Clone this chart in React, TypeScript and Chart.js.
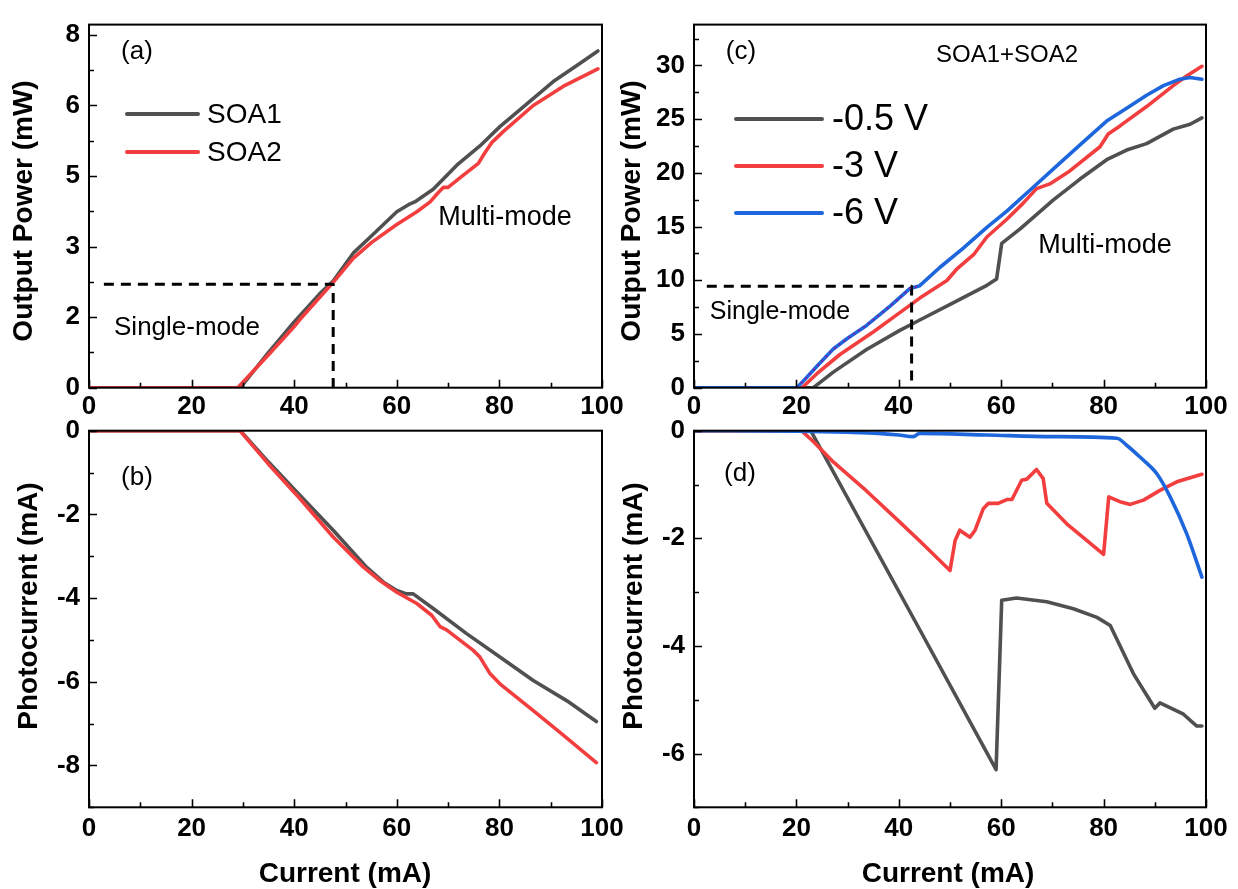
import React, { useEffect, useRef } from "react";
import { Chart, registerables } from "chart.js";

Chart.register(...registerables);

const FONT = "'Liberation Sans', Arial, Helvetica, sans-serif";
const GRAY = "#505050";
const RED = "#f23e3e";
const BLUE = "#1d66dc";
const PURPLE = "#8a1aa6";

// ---------- shared ----------
const xTickLabels = ["0", "20", "40", "60", "80", "100"];

// ---------- panel (a): output power, single SOAs ----------
const aSoa1X = [0, 29.5, 35, 40, 45, 47.6, 51.5, 55.1, 60, 62.6, 63.5, 67.1, 71.7, 76.2, 80.1, 85.3, 90.5, 95.1, 99.2];
const aSoa1Y = [0, 0, 0.75, 1.4, 2.0, 2.27, 2.86, 3.23, 3.74, 3.91, 3.95, 4.22, 4.73, 5.14, 5.55, 6.03, 6.51, 6.85, 7.16];
const aSoa2X = [0, 29, 35, 40, 41.1, 47.6, 51.5, 55.1, 60, 63.9, 66.5, 68.1, 69.1, 70, 72.3, 75.9, 77.2, 78.5, 80.8, 86.6, 92.5, 99.2];
const aSoa2Y = [0, 0, 0.7, 1.3, 1.45, 2.24, 2.75, 3.09, 3.47, 3.74, 3.95, 4.15, 4.26, 4.26, 4.46, 4.77, 5.0, 5.21, 5.45, 6.0, 6.41, 6.78];
const aDashX = [2.9, 47.6, 47.6];
const aDashY = [2.2, 2.2, 0];
const aYTickLabels = ["0", "2", "3", "5", "6", "8"];

// ---------- panel (b): photocurrent, single SOAs ----------
const bSoa1X = [0, 29.5, 35, 41.1, 47.6, 54.1, 57.4, 60, 61.9, 63.2, 67.1, 73.6, 80.1, 86.6, 93.1, 98.9];
const bSoa1Y = [0, 0, -0.75, -1.54, -2.38, -3.26, -3.62, -3.82, -3.9, -3.9, -4.25, -4.85, -5.41, -5.97, -6.45, -6.95];
const bSoa2X = [0, 29.4, 35, 41.1, 47.6, 53.5, 56.7, 60, 63.9, 66.8, 68.5, 69.7, 74.9, 76.2, 78.2, 80.1, 86.6, 91.8, 98.9];
const bSoa2Y = [0, 0, -0.8, -1.62, -2.54, -3.26, -3.58, -3.86, -4.13, -4.41, -4.69, -4.76, -5.25, -5.41, -5.81, -6.05, -6.69, -7.21, -7.93];
const bYTickLabels = ["-8", "-6", "-4", "-2", "0"];

// ---------- panel (c): output power, SOA1+SOA2 ----------
const cV05X = [0, 23.3, 27.2, 33.7, 40.2, 44.1, 50.6, 57.2, 59.1, 60.1, 63.7, 70.2, 75.4, 80.6, 84.5, 88.4, 93.6, 96.9, 99.2];
const cV05Y = [0, 0, 1.45, 3.55, 5.34, 6.3, 7.89, 9.53, 10.13, 13.43, 14.78, 17.48, 19.42, 21.22, 22.12, 22.72, 24.07, 24.52, 25.12];
const cV3X = [0, 21.1, 24, 28.5, 35, 40.2, 44.1, 49.4, 51.3, 54.6, 57.2, 61.1, 64.3, 66.9, 69.5, 73.4, 79.3, 80.9, 83.2, 88.4, 93.6, 96.2, 99.2];
const cV3Y = [0, 0, 1.3, 3.09, 5.19, 6.99, 8.34, 9.98, 11.03, 12.38, 14.03, 15.68, 17.18, 18.53, 18.97, 20.18, 22.43, 23.62, 24.37, 26.17, 28.12, 29.02, 29.92];
const cV6X = [0, 20.1, 22, 24, 27.2, 30, 33.7, 38.3, 42.2, 44.1, 48, 52.6, 57.2, 61.1, 66.3, 71.5, 76.7, 80.6, 84.5, 88.4, 91.7, 94.9, 96.9, 99.2];
const cV6Y = [0, 0, 0.95, 2.0, 3.6, 4.6, 5.8, 7.6, 9.24, 9.5, 11.19, 12.99, 14.93, 16.43, 18.68, 20.93, 23.17, 24.82, 26.02, 27.22, 28.12, 28.72, 28.87, 28.72];
const cFitX = [20.1, 22, 24, 27.2, 30, 33.7, 38.3, 42.2, 44.1];
const cFitY = [0, 0.95, 2.0, 3.6, 4.6, 5.8, 7.6, 9.24, 9.5];
const cDashX = [2.5, 42.5, 42.5];
const cDashY = [9.44, 9.44, 0];
const cYTickLabels = ["0", "5", "10", "15", "20", "25", "30"];

// ---------- panel (d): photocurrent, SOA1+SOA2 ----------
const dV05X = [0, 22.8, 44.1, 59, 60.1, 63, 68.9, 74.1, 78.7, 81.3, 85.9, 90, 91, 95.6, 98.2, 99.2];
const dV05Y = [0, 0, -3.7, -6.3, -3.15, -3.11, -3.18, -3.31, -3.47, -3.62, -4.53, -5.16, -5.06, -5.27, -5.49, -5.49];
const dV3X = [0, 21, 23.3, 27.2, 33.7, 40.2, 44.1, 50, 51, 51.9, 53.9, 54.9, 56.5, 57.5, 59.4, 61.1, 62.1, 64, 65, 66.9, 68.2, 68.9, 72.8, 76.7, 80, 81, 83.2, 85.2, 87.8, 91, 94.3, 99.2];
const dV3Y = [0, 0, -0.2, -0.58, -1.12, -1.7, -2.05, -2.6, -2.04, -1.85, -1.98, -1.85, -1.45, -1.35, -1.35, -1.28, -1.28, -0.92, -0.9, -0.72, -0.89, -1.35, -1.73, -2.04, -2.3, -1.23, -1.32, -1.37, -1.29, -1.11, -0.95, -0.81];
const dV6X = [0, 20, 30, 36, 40, 42.8, 44.1, 57.2, 70.2, 82.6, 84.5, 87.1, 90.4, 93, 96.2, 99.2];
const dV6Y = [0, -0.01, -0.03, -0.05, -0.08, -0.11, -0.05, -0.08, -0.11, -0.14, -0.27, -0.49, -0.8, -1.23, -1.91, -2.72];
const dYTickLabels = ["-6", "-4", "-2", "0"];

const legendAB = ["SOA1", "SOA2"];
const legendCD = ["-0.5 V", "-3 V", "-6 V"];

const pts = (xs: number[], ys: number[]) => xs.map((x, i) => ({ x, y: ys[i] }));

const line = (data: any[], color: string, order: number, width = 3.6, dash: number[] = [], smooth = false) => ({
  data,
  borderColor: color,
  backgroundColor: color,
  borderWidth: width,
  borderDash: dash,
  borderJoinStyle: "round",
  borderCapStyle: dash.length ? "butt" : "round",
  pointRadius: 0,
  tension: smooth ? 0.4 : 0,
  cubicInterpolationMode: smooth ? "monotone" : "default",
  fill: false,
  order,
});

type TextItem = { text: string; x: number; y: number; size: number; bold?: boolean; rot?: boolean };
type Panel = {
  plot: { left: number; top: number; right: number; bottom: number };
  yMin: number; yMax: number; yStep: number; yMinor: number; yLabels: string[];
  xPad: number;
  datasets: any[];
  texts: TextItem[];
  legend?: { labels: string[]; colors: string[]; x0: number; x1: number; tx: number; ys: number[]; size: number };
};

const framePlugin = {
  id: "frame",
  afterDraw(chart: any, _args: any, opts: any) {
    const ctx = chart.ctx;
    const { left, right, top, bottom } = chart.chartArea;
    const xs = chart.scales.x;
    const ys = chart.scales.y;
    ctx.save();
    ctx.strokeStyle = "#000";
    ctx.lineWidth = 2;
    ctx.strokeRect(left, top, right - left, bottom - top);
    ctx.lineWidth = 1.6;
    ctx.beginPath();
    for (let v = 0; v <= 100 + 1e-6; v += 10) {
      const major = Math.abs(v / 20 - Math.round(v / 20)) < 1e-6;
      const px = Math.round(xs.getPixelForValue(v)) + 0.5;
      ctx.moveTo(px, bottom);
      ctx.lineTo(px, bottom - (major ? 8 : 5));
    }
    const step = opts.yMinor;
    const start = Math.ceil(ys.min / step - 1e-6) * step;
    for (let v = start; v <= ys.max + 1e-6; v += step) {
      const major = Math.abs(v / opts.yStep - Math.round(v / opts.yStep)) < 1e-6;
      const py = Math.round(ys.getPixelForValue(v)) + 0.5;
      ctx.moveTo(left, py);
      ctx.lineTo(left + (major ? 8 : 5), py);
    }
    ctx.stroke();

    // texts
    ctx.fillStyle = "#000";
    ctx.textAlign = "center";
    ctx.textBaseline = "middle";
    for (const t of opts.texts as TextItem[]) {
      ctx.font = `${t.bold ? "bold " : ""}${t.size}px ${FONT}`;
      if (t.rot) {
        ctx.save();
        ctx.translate(t.x, t.y);
        ctx.rotate(-Math.PI / 2);
        ctx.fillText(t.text, 0, 0);
        ctx.restore();
      } else {
        ctx.fillText(t.text, t.x, t.y);
      }
    }
    // legend
    const lg = opts.legend;
    if (lg) {
      ctx.lineCap = "round";
      ctx.lineWidth = 4;
      ctx.textAlign = "left";
      ctx.font = `${lg.size}px ${FONT}`;
      lg.labels.forEach((lab: string, i: number) => {
        ctx.strokeStyle = lg.colors[i];
        ctx.beginPath();
        ctx.moveTo(lg.x0, lg.ys[i]);
        ctx.lineTo(lg.x1, lg.ys[i]);
        ctx.stroke();
        ctx.fillText(lab, lg.tx, lg.ys[i] + 1);
      });
    }
    ctx.restore();
  },
};

const W = 1238;
const H = 889;
const YW = 70;
const XH = 40;

function buildConfig(p: Panel): any {
  return {
    type: "line",
    data: { datasets: p.datasets },
    plugins: [framePlugin],
    options: {
      responsive: false,
      animation: false,
      devicePixelRatio: 1,
      events: [],
      layout: {
        padding: {
          left: p.plot.left - YW,
          right: W - p.plot.right,
          top: p.plot.top,
          bottom: H - p.plot.bottom - XH,
        },
      },
      plugins: {
        legend: { display: false },
        tooltip: { enabled: false },
        frame: { texts: p.texts, legend: p.legend, yMinor: p.yMinor, yStep: p.yStep },
      },
      scales: {
        x: {
          type: "linear",
          min: 0,
          max: 100,
          grid: { display: false, drawTicks: false, tickLength: 0 },
          border: { display: false },
          afterFit: (s: any) => { s.height = XH; },
          ticks: {
            stepSize: 20,
            autoSkip: false,
            maxRotation: 0,
            padding: p.xPad,
            color: "#000",
            font: { family: FONT, size: 26, weight: "bold", lineHeight: 1.2 },
            callback: (_v: any, i: number) => xTickLabels[i],
          },
        },
        y: {
          type: "linear",
          min: p.yMin,
          max: p.yMax,
          grid: { display: false, drawTicks: false, tickLength: 0 },
          border: { display: false },
          afterFit: (s: any) => { s.width = YW; },
          ticks: {
            stepSize: p.yStep,
            includeBounds: false,
            autoSkip: false,
            padding: 9,
            color: "#000",
            font: { family: FONT, size: 26, weight: "bold", lineHeight: 1.2 },
            callback: (_v: any, i: number) => p.yLabels[i],
          },
        },
      },
    },
  };
}

const panels: Panel[] = [
  {
    plot: { left: 89, top: 11, right: 602, bottom: 387.7 },
    yMin: 0, yMax: 7.72, yStep: 1.5, yMinor: 0.75, yLabels: aYTickLabels, xPad: 4,
    datasets: [
      line(pts(aDashX, aDashY), "#000", 0, 3, [10, 7]),
      line(pts(aSoa2X, aSoa2Y), RED, 1),
      line(pts(aSoa1X, aSoa1Y), GRAY, 2),
    ],
    texts: [
      { text: "(a)", x: 137, y: 52, size: 26 },
      { text: "Single-mode", x: 187, y: 328, size: 26 },
      { text: "Multi-mode", x: 505, y: 218, size: 27 },
      { text: "Output Power (mW)", x: 24, y: 211, size: 28, bold: true, rot: true },
    ],
    legend: { labels: legendAB, colors: [GRAY, RED], x0: 127, x1: 198, tx: 207, ys: [114, 152], size: 28 },
  },
  {
    plot: { left: 89, top: 430.7, right: 602, bottom: 807.3 },
    yMin: -9, yMax: 0, yStep: 2, yMinor: 1, yLabels: bYTickLabels, xPad: 6,
    datasets: [
      line(pts(bSoa2X, bSoa2Y), RED, 1),
      line(pts(bSoa1X, bSoa1Y), GRAY, 2),
    ],
    texts: [
      { text: "(b)", x: 137, y: 478, size: 26 },
      { text: "Photocurrent (mA)", x: 29, y: 606, size: 28, bold: true, rot: true },
      { text: "Current (mA)", x: 345, y: 874, size: 28, bold: true },
    ],
  },
  {
    plot: { left: 694, top: 11.5, right: 1206, bottom: 387.7 },
    yMin: 0, yMax: 33.8, yStep: 5, yMinor: 2.5, yLabels: cYTickLabels, xPad: 4,
    datasets: [
      line(pts(cFitX, cFitY), PURPLE, -1, 1.8, [2, 4]),
      line(pts(cDashX, cDashY), "#000", 0, 3, [10, 7]),
      line(pts(cV6X, cV6Y), BLUE, 1),
      line(pts(cV3X, cV3Y), RED, 2),
      line(pts(cV05X, cV05Y), GRAY, 3),
    ],
    texts: [
      { text: "(c)", x: 741, y: 52, size: 26 },
      { text: "SOA1+SOA2", x: 1007, y: 55, size: 24 },
      { text: "Single-mode", x: 780, y: 312, size: 25 },
      { text: "Multi-mode", x: 1105, y: 246, size: 27 },
      { text: "Output Power (mW)", x: 632, y: 211, size: 28, bold: true, rot: true },
    ],
    legend: { labels: legendCD, colors: [GRAY, RED, BLUE], x0: 736, x1: 822, tx: 832, ys: [119, 166, 213], size: 36 },
  },
  {
    plot: { left: 694, top: 430.7, right: 1206, bottom: 807.3 },
    yMin: -7, yMax: 0, yStep: 2, yMinor: 1, yLabels: dYTickLabels, xPad: 6,
    datasets: [
      line(pts(dV6X, dV6Y), BLUE, 1, 3.6, [], true),
      line(pts(dV3X, dV3Y), RED, 2),
      line(pts(dV05X, dV05Y), GRAY, 3),
    ],
    texts: [
      { text: "(d)", x: 740, y: 474, size: 26 },
      { text: "Photocurrent (mA)", x: 634, y: 606, size: 28, bold: true, rot: true },
      { text: "Current (mA)", x: 948, y: 874, size: 28, bold: true },
    ],
  },
];

function PanelChart({ panel }: { panel: Panel }) {
  const ref = useRef<HTMLCanvasElement>(null);
  useEffect(() => {
    const chart = new Chart(ref.current as HTMLCanvasElement, buildConfig(panel));
    return () => chart.destroy();
  }, [panel]);
  return (
    <canvas
      ref={ref}
      width={W}
      height={H}
      style={{ position: "absolute", left: 0, top: 0, width: W, height: H }}
    />
  );
}

export default function App() {
  return (
    <div style={{ position: "absolute", left: 0, top: 0, width: W, height: H, background: "#fff", overflow: "hidden" }}>
      {panels.map((p, i) => (
        <PanelChart key={i} panel={p} />
      ))}
    </div>
  );
}
